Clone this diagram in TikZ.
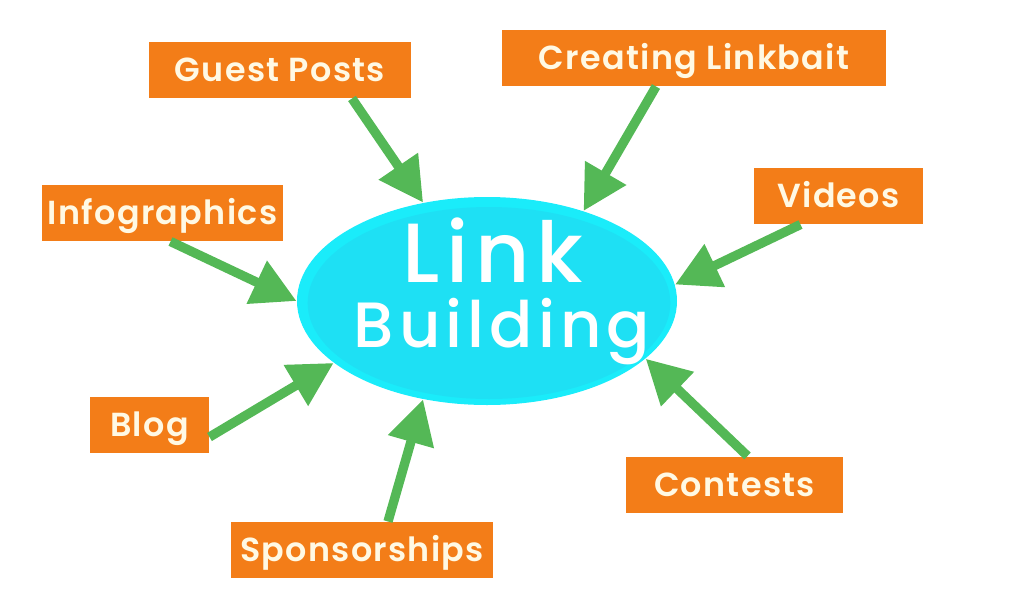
\documentclass[tikz,border=0pt]{standalone}
\usepackage{fontspec}
\setmainfont{Poppins}
\newfontfamily\boxfont{Poppins SemiBold}[LetterSpace=4]
\newfontfamily\hubfont{Poppins Medium}[LetterSpace=8]
\usetikzlibrary{arrows.meta,shapes.geometric}

\definecolor{boxorange}{RGB}{243,125,24}
\definecolor{boxtext}{RGB}{255,249,228}
\definecolor{feedgreen}{RGB}{84,184,86}
\definecolor{hubrim}{RGB}{26,236,250}
\definecolor{hubcyan}{RGB}{30,224,244}

\tikzset{every picture/.style={line width=0.75pt}}
\tikzset{
  topic/.style={fill=boxorange, text=boxtext, inner sep=0pt, minimum height=42pt,
    text height=17.5pt, text depth=0pt, font=\boxfont\fontsize{25}{25}\selectfont},
  feed/.style={draw=feedgreen, line width=7pt, -{Triangle[width=34pt,length=33pt]}},
  hubword/.style={anchor=base, text=white, inner sep=0pt},
}

\begin{document}
\begin{tikzpicture}[x=0.75pt,y=0.75pt,yscale=-1,xscale=1]
    \useasboundingbox (0,0) rectangle (1024,596);

    %Shape: Ellipse [id:hub]
    \node (hub) [ellipse, fill=hubrim, minimum width=285pt, minimum height=156pt, inner sep=0pt] at (487,301) {};
    %Shape: Ellipse [id:hubcore]
    \node (hubcore) [ellipse, fill=hubcyan, minimum width=272pt, minimum height=144pt, inner sep=0pt] at (489,303) {};

    % Text Node
    \node (link) [hubword, font=\hubfont\fontsize{63}{63}\selectfont] at (493,282) {Link};
    % Text Node
    \node (building) [hubword, font=\hubfont\fontsize{48}{48}\selectfont] at (502,347) {Building};

    % Text Node
    \node (guest) [topic, minimum width=196.5pt] at (280,70) {Guest Posts};
    % Text Node
    \node (linkbait) [topic, minimum width=288pt] at (694,58) {Creating Linkbait};
    % Text Node
    \node (videos) [topic, minimum width=126.75pt] at (838.5,196) {Videos};
    % Text Node
    \node (infographics) [topic, minimum width=180.75pt] at (162.5,213) {Infographics};
    % Text Node
    \node (blog) [topic, minimum width=89.25pt] at (149.5,425) {Blog};
    % Text Node
    \node (sponsorships) [topic, minimum width=196.5pt] at (362,550) {Sponsorships};
    % Text Node
    \node (contests) [topic, minimum width=162.75pt] at (734.5,484.5) {Contests};

    %Straight Lines [id:arrows]
    \draw [feed] ([xshift=54pt]guest.south) -- (hub.123);
    \draw [feed] ([xshift=-28.5pt]linkbait.south) -- (hub.43);
    \draw [feed] ([xshift=-28.5pt]videos.south) -- (hub.5);
    \draw [feed] ([xshift=6pt]infographics.south) -- (hub.180);
    \draw [feed] ([yshift=9pt]blog.east) -- (hub.202);
    \draw [feed] ([xshift=19.5pt]sponsorships.north) -- (hub.237);
    \draw [feed] ([xshift=9.75pt]contests.north) -- (hub.340);

\end{tikzpicture}
\end{document}
